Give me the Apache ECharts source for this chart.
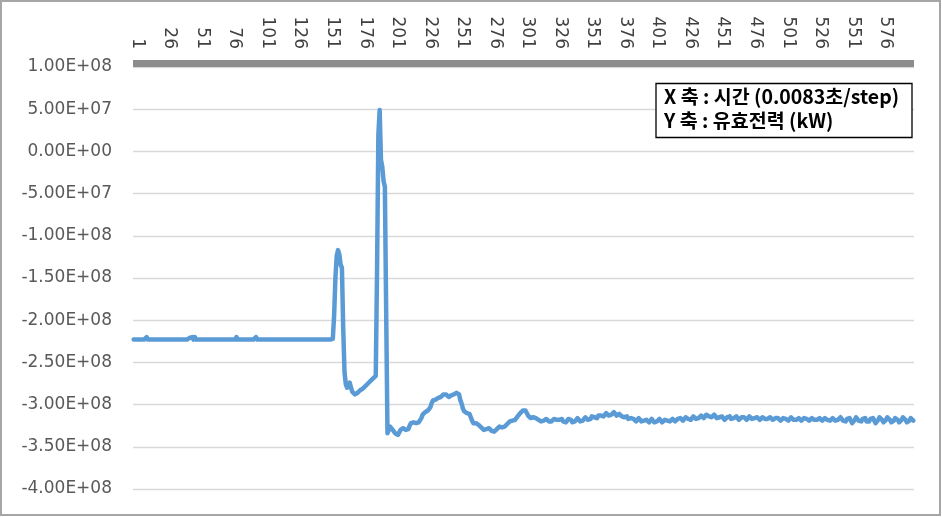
<!DOCTYPE html>
<html>
<head>
<meta charset="utf-8">
<script src="https://cdn.jsdelivr.net/npm/echarts@6/dist/echarts.min.js"></script>
<style>
html,body{margin:0;padding:0;background:#fff;}
#chart{width:942px;height:517px;}
</style>
</head>
<body>
<div id="chart"></div>
<script>
// Values in units of 1e6 (kW)
var flatPart = [
-223,-223,-223,-223,-223,-223,-223,-223,-223,-223,-220,-223,-223,-223,-223,-223,-223,-223,-223,-223,
-223,-223,-223,-223,-223,-223,-223,-223,-223,-223,-223,-223,-223,-223,-223,-223,-223,-223,-223,-223,
-223,-223,-223,-221,-219,-220,-223,-220,-223,-223,-223,-223,-223,-221,-223,-223,-223,-223,-223,-223,
-223,-223,-223,-223,-223,-223,-223,-223,-223,-223,-223,-223,-223,-223,-223,-223,-223,-223,-223,-220,
-223,-223,-223,-223,-223,-223,-223,-223,-223,-223,-223,-223,-223,-223,-220,-223,-223,-223,-223,-223,
-223,-223,-223,-223,-223,-223,-223,-223,-223,-223,-223,-223,-223,-223,-223,-223,-223,-223,-223,-223,
-223,-223,-223,-223,-223,-223,-223,-223,-223,-223,-223,-223,-223,-223,-223,-223,-223,-223,-223,-223,
-223,-223,-223,-223,-223,-223,-223,-223,-223,-223,-223,-223,-223
];
var spikePart = [
-222,-195,-150,-124,-117,-122,-134,-138,-210,-262,-276,-280,-279,-274,-280,-285,-287,-288,-287,-286,
-284,-283,-282,-281,-280,-278,-276,-275,-273,-272,-271,-269,-268,-266,-140,20,49,-10,-18,-35,
-42,-190,-334
];
var recoveryPart = [
-330,-326,-326,-330,-332,-334,-336,-336,-333,-330,-328,-328,-329,-330,-330,-329,-325,-322,-322,-321,
-322,-322,-322,-321,-320,-316,-312,-310,-309,-308,-307,-306,-303,-298,-295,-294,-294,-293,-292,-292,
-291,-289,-288,-287,-288,-290,-291,-290,-289,-288,-288,-287,-286,-285,-288,-295,-299,-305,-308,-309,
-310,-310,-311,-315,-319,-322,-322,-322,-323,-324,-325,-327,-329,-330,-330,-329,-328,-328,-330,-331,
-332,-332,-331,-329,-327,-326,-326,-327,-327,-326,-325,-323,-321,-320,-320,-319,-318,-318,-316,-314,
-312,-310,-308,-307,-306,-307,-310,-313,-315,-316,-316,-315,-316,-316,-317,-318,-320,-320,-320,-319,
-318,-317,-318,-320,-321,-320,-318,-317,-317,-318,-320
];
var tailPart = [
-318,-316,-317,-320,-322,-321,-319,-317,-316,-318,-321,-322,-320,-318,-316,-317,-320,
-320,-319,-317,-315,-316,-318,-319,-317,-314,-313,-315,-317,-316,-313,-312,-313,-315,-314,-312,
-310,-311,-313,-314,-312,-310,-309,-311,-313,-313,-311,
-312,-314,-316,-315,-313,-314,-317,-318,-316,-315,-317,-319,-320,-318,-316,-317,
-320,-321,-319,-317,-318,-320,-321,-319,-317,-318,-321,-322,-320,-318,-317,-319,-321,-320,-318,-317,-319,-321,-320,-318,-317,
-318,-320,-319,-317,-315,-316,-318,-319,-317,-315,-315,-317,-319,-318,-316,-314,-315,-317,-318,-316,-314,
-313,-315,-316,-314,-312,-312,-314,-316,-315,-313,
-312,-314,-316,-317,-315,-313,-314,-316,-318,-317,-315,-313,-314,-317,-318,-316,-314,-314,-316,-318,-317,-315,-314,-315,-317,-318,-316,-314,-315,-317,-318,-316,-314,-315,-317,-318,-317,-315,-315,-317,-318,-317,-315,-315,-316,-318,
-318,-316,-315,-316,-318,-319,-318,-316,-315,-317,-319,-319,-317,-315,-316,-318,-319,-318,-316,-316,-318,-319,-318,-316,-316,-317,-319,-319,-317,-316,-317,-318,-319,-318,-316,-316,-318,-319,-318,-316,-316,-318,-320,-319,-317,-316,-317,-319,-320,-318,-316,
-315,-316,-319,-321,-320,-317,-315,-316,-319,-322,-321,-318,-315,-316,-319,-321,-320,-317,-315,-316,-320,-322,-320,-317,-315,-316,-319,-322,-321,-318,-315,-315,-318,-321,-321,-318,-315,-315,-318,-321,-322,-319,-316,-315,-318,-321,-321,-318,-315,-315,-318,-321,-322,-319,-316,-316,-319
];
var powerValues = flatPart.concat(spikePart, recoveryPart, tailPart);
var steps = [];
for (var k = 1; k <= powerValues.length; k++) steps.push(String(k));

var yMin = -400, yMax = 100, yStep = 50;   // ×1e6
var labelEvery = 25;
var noteLines = ['X 축 : 시간 (0.0083초/step)', 'Y 축 : 유효전력 (kW)'];

function sci(v) {
  var s = (v * 1e6).toExponential(2).toUpperCase();
  return s.replace(/E([+-])(\d)$/, 'E$10$2');
}

var chart = echarts.init(document.getElementById('chart'), null, {renderer: 'canvas'});
chart.setOption({
  animation: false,
  backgroundColor: '#ffffff',
  grid: {left: 133, right: 28, top: 67, bottom: 28},
  xAxis: {
    type: 'category',
    position: 'top',
    offset: 4,
    data: steps,
    boundaryGap: true,
    axisLine: {show: true, onZero: false, lineStyle: {color: '#8c8c8c', width: 7, cap: 'butt'}},
    axisTick: {show: false},
    axisLabel: {
      interval: labelEvery - 1,
      rotate: 90,
      margin: 14,
      verticalAlign: 'bottom',
      lineHeight: 7,
      color: '#404040',
      fontFamily: 'DejaVu Sans',
      fontSize: 17
    },
    splitLine: {show: false}
  },
  yAxis: {
    type: 'value',
    min: yMin, max: yMax, interval: yStep,
    axisLine: {show: false},
    axisTick: {show: false},
    axisLabel: {
      formatter: sci,
      margin: 21,
      color: '#595959',
      fontFamily: 'DejaVu Sans',
      fontSize: 17
    },
    splitLine: {show: true, lineStyle: {color: '#d9d9d9', width: 1.3}}
  },
  series: [{
    type: 'line',
    data: powerValues,
    showSymbol: false,
    symbol: 'none',
    lineStyle: {color: '#5b9bd5', width: 4.5, join: 'round', cap: 'round'},
    itemStyle: {color: '#5b9bd5'}
  }],
  graphic: [
    {
      type: 'rect', z: 100,
      shape: {x: 1, y: 1, width: 939, height: 514},
      style: {fill: 'none', stroke: '#a6a6a6', lineWidth: 2}
    },
    {
      type: 'rect', z: 100,
      shape: {x: 656, y: 83.5, width: 256, height: 54},
      style: {fill: '#ffffff', stroke: '#000000', lineWidth: 1.3}
    },
    {
      type: 'text', z: 101, left: 664, top: 87,
      style: {text: noteLines[0], fill: '#000000', font: 'bold 19.5px "Noto Sans CJK KR"'}
    },
    {
      type: 'text', z: 101, left: 664, top: 111,
      style: {text: noteLines[1], fill: '#000000', font: 'bold 19.5px "Noto Sans CJK KR"'}
    }
  ]
});
</script>
</body>
</html>
